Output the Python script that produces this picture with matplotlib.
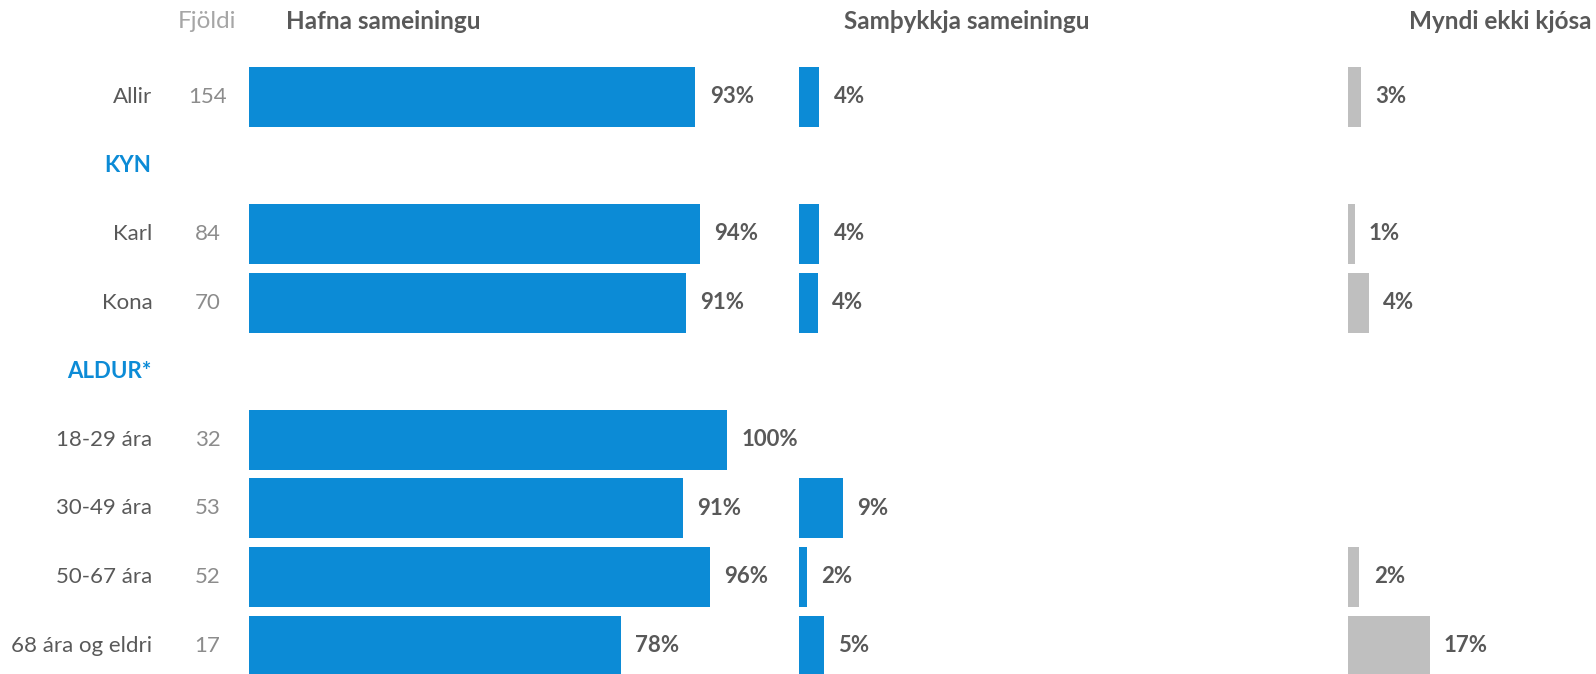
import numpy as np
from matplotlib import pyplot as plt

# data
categories = ['Allir', 'KYN', 'Karl', 'Kona', 'ALDUR*',
              '18-29 ára', '30-49 ára', '50-67 ára', '68 ára og eldri']
is_group = [False, True, False, False, True, False, False, False, False]
fjoldi = [154, None, 84, 70, None, 32, 53, 52, 17]
hafna = [93.4, None, 94.4, 91.4, None, 100, 90.8, 96.4, 77.8]
samthykkja = [4.3, None, 4.3, 4.0, None, 0, 9.2, 1.7, 5.3]
myndi_ekki = [2.6, None, 1.3, 4.3, None, 0, 0, 2.3, 17.0]
headers = ['Hafna sameiningu', 'Samþykkja sameiningu', 'Myndi ekki kjósa']

BLUE = '#0C8BD6'
GRAY = '#BFBFBF'
TXT = '#595959'

plt.rcParams['font.family'] = ['Lato', 'DejaVu Sans']

fig = plt.figure(figsize=(15.96, 6.74), dpi=100)
ax = fig.add_axes([0, 0, 1, 1])
ax.set_xlim(-52.1, 281.8)
ax.set_ylim(8.415, -1.41)
ax.axis('off')

offsets = [0, 115, 230]
series = [hafna, samthykkja, myndi_ekki]
colors = [BLUE, BLUE, GRAY]
y = np.arange(len(categories))

for off, vals, col in zip(offsets, series, colors):
    for yi, v in zip(y, vals):
        if v is None or v == 0:
            continue
        ax.barh(yi, v, left=off, height=0.875, color=col)
        ax.text(off + v + 3, yi, f"{round(v)}%", ha='left', va='center',
                fontsize=16, fontweight='bold', color=TXT)

for yi, cat, grp, n in zip(y, categories, is_group, fjoldi):
    if grp:
        ax.text(-20.4, yi, cat, ha='right', va='center', fontsize=16,
                fontweight='bold', color=BLUE)
    else:
        ax.text(-20.2, yi, cat, ha='right', va='center', fontsize=16, color=TXT)
        ax.text(-8.7, yi, str(n), ha='center', va='center', fontsize=16,
                color='#8C8C8C')

ax.text(-8.7, -1.1, 'Fjöldi', ha='center', va='center', fontsize=17.5,
        color='#A6A6A6')
header_x = [7.7, 124.4, 242.6]
for hx, h in zip(header_x, headers):
    ax.text(hx, -1.1, h, ha='left', va='center', fontsize=17.5,
            fontweight='bold', color=TXT)

fig.savefig('out.png', dpi=100)
